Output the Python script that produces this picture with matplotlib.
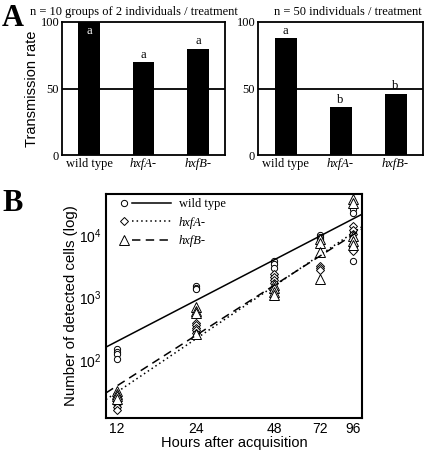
import numpy as np
import matplotlib
matplotlib.use('Agg')
import matplotlib.pyplot as plt
from matplotlib.lines import Line2D
from matplotlib.legend_handler import HandlerBase

plt.rcParams['font.family'] = ['Liberation Sans', 'DejaVu Sans']
SERIF = ['Liberation Serif', 'DejaVu Serif']

# ---- panel A data ----
strains = ['wild type', 'hxfA-', 'hxfB-']
rate_groups = [100, 70, 80]
letters_groups = ['a', 'a', 'a']
rate_indiv = [88, 36, 46]
letters_indiv = ['a', 'b', 'b']

# ---- panel B data (cells per time point) ----
hours = [12, 24, 48, 72, 96]
wt_cells = [[150, 138, 125, 105],
            [1550, 1450, 1350],
            [3900, 3400, 3000],
            [10000, 9200, 8500],
            [31000, 26000, 22000, 11000, 3800]]
hxfA_cells = [[25, 22, 20, 18, 16],
              [400, 360, 330, 300, 270],
              [2400, 2100, 1900, 1700],
              [3200, 3000, 2800],
              [14000, 12000, 10500, 6500, 5500]]
hxfB_cells = [[32, 29, 27, 24],
              [700, 620, 560, 260],
              [1600, 1400, 1250, 1100],
              [8500, 7500, 5300, 2000],
              [38000, 32000, 9500, 8000, 7000]]
# regression lines, value at 12 h and 96 h
fit_hours = [12, 96]
wt_fit = [200, 18000]
hxfA_fit = [31, 10800]
hxfB_fit = [39, 10000]


class MarkerThenLine(HandlerBase):
    # marker on the left, line segment after it
    def create_artists(self, legend, orig_handle, xdescent, ydescent,
                       width, height, fontsize, trans):
        y = height / 2 - ydescent
        x0 = -xdescent
        m = Line2D([x0 + 0.1 * width], [y], linestyle='none',
                   marker=orig_handle.get_marker(),
                   markersize=orig_handle.get_markersize(),
                   markerfacecolor='white', markeredgecolor='black',
                   markeredgewidth=0.7)
        ln = Line2D([x0 + 0.26 * width, x0 + width], [y, y])
        ln.update_from(orig_handle)
        ln.set_marker('')
        m.set_transform(trans)
        ln.set_transform(trans)
        return [m, ln]


fig = plt.figure(figsize=(4.25, 4.55), dpi=100)
fig.patch.set_facecolor('white')

W, H = 425.0, 455.0


def box(x0, y0, x1, y1):
    return [x0 / W, 1 - y1 / H, (x1 - x0) / W, (y1 - y0) / H]


def bar_panel(ax, vals, letters, title, tx):
    x = np.arange(len(strains))
    ax.bar(x, vals, 0.4, color='black')
    ax.axhline(50, color='black', linewidth=1.3)
    ax.set_xlim(-0.5, 2.5)
    ax.set_ylim(0, 100)
    ax.set_yticks([0, 50, 100])
    ax.set_yticklabels(['0', '50', '100'], family=SERIF, fontsize=9)
    ax.set_xticks(x)
    ax.set_xticklabels(strains, family=SERIF, fontsize=9)
    for lab in ax.get_xticklabels()[1:]:
        lab.set_style('italic')
    ax.tick_params(length=0, pad=2)
    for s in ax.spines.values():
        s.set_linewidth(1.3)
    for i in range(len(vals)):
        if vals[i] + 8 > 100:
            ax.text(x[i], vals[i] - 2, letters[i], ha='center', va='top',
                    color='white', family=SERIF, fontsize=9)
        else:
            ax.text(x[i], vals[i] + 1, letters[i], ha='center', va='bottom',
                    family=SERIF, fontsize=9)
    ax.set_title(title, family=SERIF, fontsize=9, x=tx, pad=5)


axA1 = fig.add_axes(box(62, 22, 225, 155))
bar_panel(axA1, rate_groups, letters_groups,
          'n = 10 groups of 2 individuals / treatment', 0.44)
axA1.set_ylabel('Transmission rate', fontsize=10.5, labelpad=1)

axA2 = fig.add_axes(box(258, 22, 423, 155))
bar_panel(axA2, rate_indiv, letters_indiv,
          'n = 50 individuals / treatment', 0.545)

# ---- panel B ----
axB = fig.add_axes(box(106, 194, 362, 418))
axB.set_xscale('log')
axB.set_yscale('log')
xlim = (10.9, 104)
axB.set_xlim(xlim)
axB.set_ylim(12, 45000)

series = [(wt_cells, wt_fit, 'o', 4.5, '-', 'wild type'),
          (hxfA_cells, hxfA_fit, 'D', 4.3, (0, (1, 2)), 'hxfA-'),
          (hxfB_cells, hxfB_fit, '^', 6.5, (0, (5.5, 3.5)), 'hxfB-')]
proxies = []
for cells, fit, mk, ms, ls, name in series:
    for h, vals in zip(hours, cells):
        axB.plot([h] * len(vals), vals, linestyle='none', marker=mk,
                 markersize=ms, markerfacecolor='white',
                 markeredgecolor='black', markeredgewidth=0.7)
    # extend the regression line (straight in log-log) to the axis edges
    coef = np.polyfit(np.log(fit_hours), np.log(fit), 1)
    xs = np.array(xlim)
    axB.plot(xs, np.exp(np.polyval(coef, np.log(xs))), color='black',
             linewidth=1.1, linestyle=ls)
    proxies.append(Line2D([], [], marker=mk, markersize=ms, linestyle=ls,
                          linewidth=1.1, color='black'))

leg = axB.legend(proxies, [s[5] for s in series], loc='upper left',
                 bbox_to_anchor=(0.05, 0.98), frameon=False,
                 handler_map={Line2D: MarkerThenLine()},
                 handlelength=4.2, handletextpad=0.6, labelspacing=0.5,
                 borderpad=0, borderaxespad=0,
                 prop={'family': SERIF, 'size': 9})
for t in leg.get_texts()[1:]:
    t.set_style('italic')

axB.set_xticks(hours)
axB.set_xticklabels([str(h) for h in hours], fontsize=10)
axB.xaxis.set_minor_locator(matplotlib.ticker.NullLocator())
axB.set_yticks([1e2, 1e3, 1e4])
axB.yaxis.set_minor_locator(matplotlib.ticker.NullLocator())
axB.tick_params(length=0, pad=3, labelsize=10)
for s in axB.spines.values():
    s.set_linewidth(1.5)
axB.set_xlabel('Hours after acquisition', fontsize=10.5, labelpad=0)
axB.set_ylabel('Number of detected cells (log)', fontsize=10.8, labelpad=1)

fig.text(2 / W, 1 - 26 / H, 'A', family=SERIF, fontsize=22,
         fontweight='bold', ha='left', va='baseline')
fig.text(2 / W, 1 - 211 / H, 'B', family=SERIF, fontsize=22,
         fontweight='bold', ha='left', va='baseline')

fig.savefig('out.png', dpi=100)
